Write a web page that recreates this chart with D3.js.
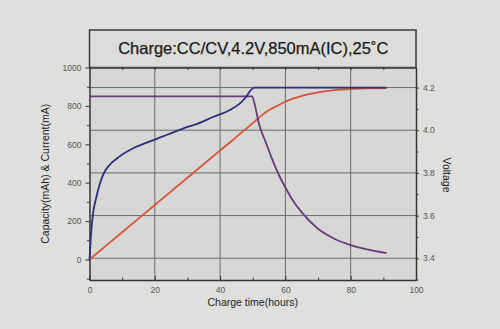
<!DOCTYPE html>
<html>
<head>
<meta charset="utf-8">
<script src="https://cdn.jsdelivr.net/npm/d3@7"></script>
<style>
  html, body { margin: 0; padding: 0; background: #dfdfdd; }
  svg { display: block; font-family: "Liberation Sans", Arial, sans-serif; }
</style>
</head>
<body>
<svg id="chart" width="500" height="329"></svg>
<script>
// Charge curve data: time in hours
const titleText = "Charge:CC/CV,4.2V,850mA(IC),25\u02DAC";
const xLabel = "Charge time(hours)";
const yLeftLabel = "Capacity(mAh) & Current(mA)";
const yRightLabel = "Voltage";

const xTicks = [0, 20, 40, 60, 80, 100];
const yLeftTicks = [0, 200, 400, 600, 800, 1000];
const yRightTicks = [3.4, 3.6, 3.8, 4.0, 4.2];

// Cell voltage (V), right axis
const voltageTime = [0, 0.5, 1, 2, 3, 4, 5, 7, 9, 14, 19, 24, 29, 33, 38, 43, 46, 48, 49.4, 50.5, 91];
const voltageValue = [3.39, 3.52, 3.60, 3.68, 3.74, 3.785, 3.815, 3.85, 3.875, 3.92, 3.95, 3.98, 4.01, 4.03, 4.063, 4.095, 4.125, 4.157, 4.188, 4.2, 4.2];

// Charge current (mA), left axis
const currentTime = [0, 49.8, 50.7, 52, 54, 56, 58, 60, 62, 65, 70, 75, 80, 85, 91];
const currentValue = [850, 850, 800, 700, 610, 520, 440, 375, 315, 245, 160, 108, 75, 52, 33];

// Charged capacity (mAh), left axis
const capacityTime = [0, 10, 20, 30, 40, 50, 52, 55, 58, 60, 65, 70, 75, 80, 85, 91];
const capacityValue = [0, 142, 284, 426, 568, 710, 740, 778, 805, 823, 852, 870, 882, 888, 891, 893];

const svg = d3.select("#chart");
const L = 89.5, R = 416, T = 67.5, B = 280, titleTop = 30;

const x = d3.scaleLinear().domain([0, 100]).range([L, R]);
const yL = d3.scaleLinear().domain([-107, 1000]).range([B, T]);
const yR = d3.scaleLinear().domain([3.298, 4.294]).range([B, T]);

// plot and title panels
svg.append("rect").attr("x", L).attr("y", titleTop).attr("width", R - L).attr("height", T - titleTop)
  .attr("fill", "#dcdcda").attr("stroke", "#3a3a3a").attr("stroke-width", 1.5);
svg.append("rect").attr("x", L).attr("y", T).attr("width", R - L).attr("height", B - T)
  .attr("fill", "#d7d7d5");

svg.append("text").attr("x", (L + R) / 2 + 0.5).attr("y", 53.5)
  .attr("text-anchor", "middle").attr("font-size", 16.5).attr("fill", "#1a1a1a")
  .attr("stroke", "#1a1a1a").attr("stroke-width", 0.25)
  .text(titleText);

// grid
const grid = svg.append("g").attr("stroke", "#6a6a6a").attr("stroke-width", 1);
grid.selectAll("line.v").data(xTicks.filter(d => d > 0 && d < 100)).join("line")
  .attr("x1", d => x(d)).attr("x2", d => x(d)).attr("y1", T).attr("y2", B);
grid.selectAll("line.h").data(yRightTicks).join("line")
  .attr("x1", L).attr("x2", R).attr("y1", d => yR(d)).attr("y2", d => yR(d));

// axes
const tickStyle = g => {
  g.selectAll("text").attr("fill", "#555").attr("font-size", 8.5)
    .attr("font-family", "Liberation Sans, Arial, sans-serif");
  g.selectAll("line").attr("stroke", "#333");
  g.select(".domain").attr("stroke", "#333").attr("stroke-width", 1.5);
};

svg.append("g").attr("transform", `translate(0,${B})`)
  .call(d3.axisBottom(x).tickValues(xTicks).tickSize(-4).tickPadding(7).tickSizeOuter(0))
  .call(tickStyle);
svg.append("g").attr("transform", `translate(0,${B})`)
  .call(d3.axisBottom(x).tickValues(d3.range(10, 100, 20)).tickSize(-2.5).tickFormat("").tickSizeOuter(0))
  .call(g => { g.select(".domain").remove(); g.selectAll("line").attr("stroke", "#333"); });
svg.append("g").attr("transform", `translate(0,${T})`)
  .call(d3.axisTop(x).tickValues(d3.range(0, 101, 10)).tickSize(-2.5).tickFormat("").tickSizeOuter(0))
  .call(g => { g.select(".domain").attr("stroke", "#333").attr("stroke-width", 1.5); g.selectAll("line").attr("stroke", "#333"); });

svg.append("g").attr("transform", `translate(${L},0)`)
  .call(d3.axisLeft(yL).tickValues(yLeftTicks).tickSize(4).tickPadding(4)
    .tickFormat(d3.format("d")).tickSizeOuter(0))
  .call(tickStyle);
svg.append("g").attr("transform", `translate(${L},0)`)
  .call(d3.axisLeft(yL).tickValues([-100, 100, 300, 500, 700, 900]).tickSize(2.5).tickFormat("").tickSizeOuter(0))
  .call(g => { g.select(".domain").remove(); g.selectAll("line").attr("stroke", "#333"); });

svg.append("g").attr("transform", `translate(${R},0)`)
  .call(d3.axisRight(yR).tickValues(yRightTicks).tickSize(3).tickPadding(4)
    .tickFormat(d3.format(".1f")).tickSizeOuter(0))
  .call(tickStyle);
svg.append("g").attr("transform", `translate(${R},0)`)
  .call(d3.axisRight(yR).tickValues([3.3, 3.5, 3.7, 3.9, 4.1]).tickSize(2.5).tickFormat("").tickSizeOuter(0))
  .call(g => { g.select(".domain").remove(); g.selectAll("line").attr("stroke", "#333"); });

// axis titles
svg.append("text").attr("x", (L + R) / 2).attr("y", 306).attr("text-anchor", "middle")
  .attr("font-size", 10.5).attr("fill", "#222").text(xLabel);
svg.append("text").attr("transform", `translate(49,${(T + B) / 2}) rotate(-90)`)
  .attr("text-anchor", "middle").attr("font-size", 10.5).attr("fill", "#222").text(yLeftLabel);
svg.append("text").attr("transform", `translate(443,175) rotate(90)`)
  .attr("text-anchor", "middle").attr("font-size", 10.5).attr("fill", "#222").text(yRightLabel);

// series
const line = (xs, ys, yScale) => d3.line().curve(d3.curveMonotoneX)
  .x((d, i) => x(xs[i])).y((d, i) => yScale(ys[i]))(xs);

svg.append("path").attr("d", line(capacityTime, capacityValue, yL))
  .attr("fill", "none").attr("stroke", "#d4553a").attr("stroke-width", 1.8);
svg.append("path").attr("d", line(currentTime, currentValue, yL))
  .attr("fill", "none").attr("stroke", "#6a3a7c").attr("stroke-width", 1.8);
svg.append("path").attr("d", line(voltageTime, voltageValue, yR))
  .attr("fill", "none").attr("stroke", "#2c2f7c").attr("stroke-width", 1.8);
</script>
</body>
</html>
